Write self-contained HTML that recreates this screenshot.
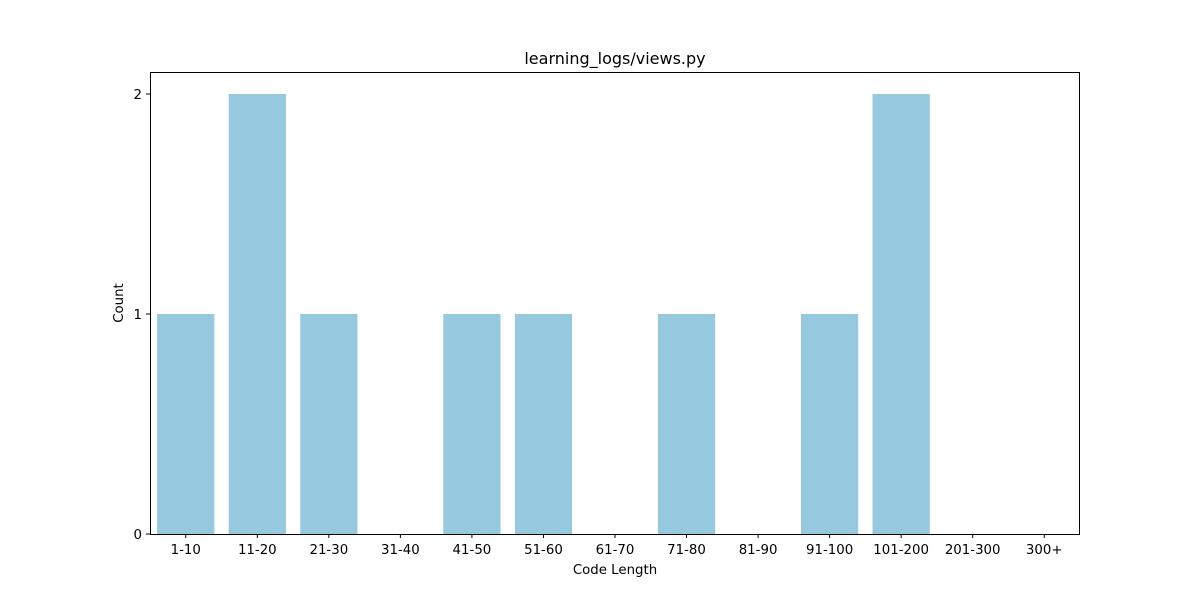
<!DOCTYPE html>
<html><head><meta charset="utf-8"><style>
body{margin:0;background:#fff;}
svg text{font-family:"DejaVu Sans","Liberation Sans",sans-serif;fill:#000;}
</style></head><body>
<svg width="1200" height="600">
<text x="615" y="64" font-size="16" text-anchor="middle">learning_logs/views.py</text>
<g id="bars"></g>
<rect x="150.5" y="72.5" width="929" height="462" fill="none" stroke="#000" stroke-width="1"/>
<g id="ticks"></g>
<text x="615" y="574" font-size="13.33" text-anchor="middle">Code Length</text>
<text x="123" y="303" font-size="13.33" text-anchor="middle" transform="rotate(-90 123 303)">Count</text>
</svg>
<script>
const categories=["1-10","11-20","21-30","31-40","41-50","51-60","61-70","71-80","81-90","91-100","101-200","201-300","300+"];
const counts=[1,2,1,0,1,1,0,1,0,1,2,0,0];
const yTicks=[0,1,2];
const L=150,R=1080,T=72,B=534,yMax=2.1;
const bw=(R-L)/categories.length;
const xs=i=>L+bw*(i+0.5);
const ys=v=>B-(v/yMax)*(B-T);
const NS="http://www.w3.org/2000/svg";
const bars=document.getElementById('bars'),ticks=document.getElementById('ticks');
categories.forEach((c,i)=>{
 const r=document.createElementNS(NS,'rect');
 r.setAttribute('x',xs(i)-bw*0.4);r.setAttribute('width',bw*0.8);
 r.setAttribute('y',ys(counts[i]));r.setAttribute('height',B-ys(counts[i]));
 r.setAttribute('fill','#96c9de');
 
 
 bars.appendChild(r);
 const l=document.createElementNS(NS,'line');
 l.setAttribute('x1',xs(i));l.setAttribute('x2',xs(i));l.setAttribute('y1',B);l.setAttribute('y2',B+4);l.setAttribute('stroke','#000');
 
 
 ticks.appendChild(l);
 const t=document.createElementNS(NS,'text');
 t.setAttribute('x',xs(i));t.setAttribute('y',B+20);t.setAttribute('font-size','13.33');t.setAttribute('text-anchor','middle');
 t.textContent=c;
 
 
 ticks.appendChild(t);
});
yTicks.forEach(v=>{
 const l=document.createElementNS(NS,'line');
 l.setAttribute('x1',L-4);l.setAttribute('x2',L);l.setAttribute('y1',ys(v));l.setAttribute('y2',ys(v));l.setAttribute('stroke','#000');
 
 
 ticks.appendChild(l);
 const t=document.createElementNS(NS,'text');
 t.setAttribute('x',L-8);t.setAttribute('y',ys(v)+5);t.setAttribute('font-size','13.33');t.setAttribute('text-anchor','end');
 t.textContent=v;
 
 
 ticks.appendChild(t);
});
</script>
</body></html>
